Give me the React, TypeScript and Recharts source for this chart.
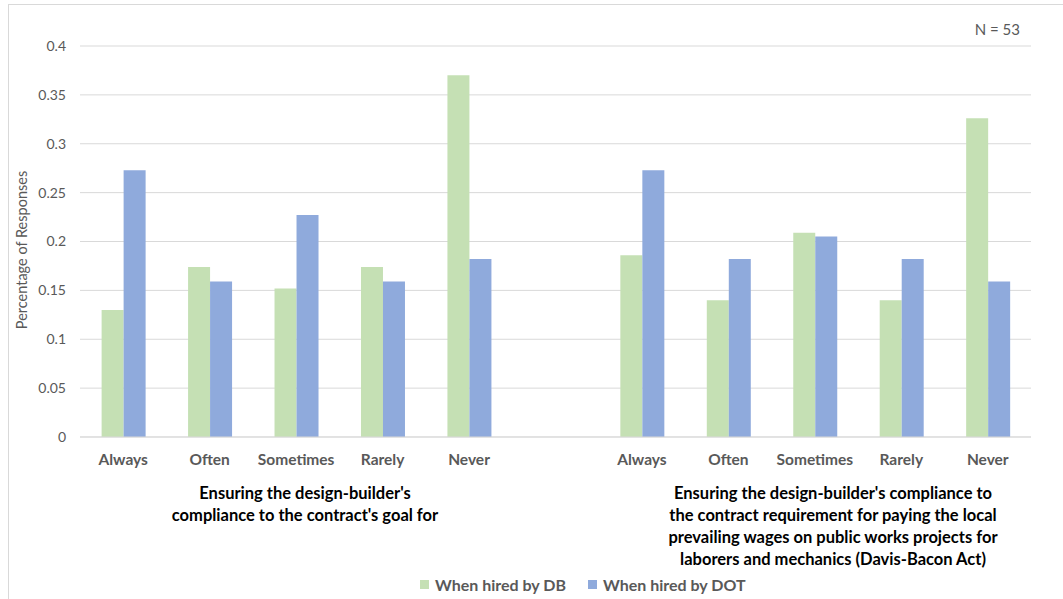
import React from 'react';
import { BarChart, Bar, XAxis, YAxis, CartesianGrid, Legend, Customized } from 'recharts';

// Two question groups of five answers, with a blank slot between them
const categories = ['Always', 'Often', 'Sometimes', 'Rarely', 'Never', '', 'Always', 'Often', 'Sometimes', 'Rarely', 'Never'];
const hiredByDB = [0.13, 0.174, 0.152, 0.174, 0.37, null, 0.186, 0.14, 0.209, 0.14, 0.326];
const hiredByDOT = [0.273, 0.159, 0.227, 0.159, 0.182, null, 0.273, 0.182, 0.205, 0.182, 0.159];
const yTicks = [0, 0.05, 0.1, 0.15, 0.2, 0.25, 0.3, 0.35, 0.4];

const groupTitles = [
  ["Ensuring the design-builder's", "compliance to the contract's goal for"],
  [
    "Ensuring the design-builder's compliance to",
    'the contract requirement for paying the local',
    'prevailing wages on public works projects for',
    'laborers and mechanics (Davis-Bacon Act)',
  ],
];

const seriesNames = ['When hired by DB', 'When hired by DOT'];
const seriesColors = ['#C5E0B4', '#8FAADC'];

const FONT = 'Lato, "Open Sans", sans-serif';
const W = 1063;
const H = 599;

const chartData = categories.map((name, i) => ({
  name,
  db: hiredByDB[i],
  dot: hiredByDOT[i],
}));

const CategoryTick = (props: any) => {
  const { x, y, payload } = props;
  return (
    <text x={x} y={y} dy={20} textAnchor="middle" fill="#595959" fontSize={15.5} fontWeight={700} fontFamily={FONT}>
      {payload.value}
    </text>
  );
};

// Frame, axis title, sample size note and the group captions under the ticks
const Extras = () => (
  <g fontFamily={FONT}>
    <rect x={8.5} y={4.5} width={W + 50} height={H + 50} fill="none" stroke="#D9D9D9" />
    <text x={1020} y={35} textAnchor="end" fill="#595959" fontSize={15}>
      N = 53
    </text>
    <text
      x={27}
      y={250}
      transform="rotate(-90 27 250)"
      textAnchor="middle"
      fill="#595959"
      fontSize={14.5}
    >
      Percentage of Responses
    </text>
    {groupTitles.map((lines, g) => (
      <text key={g} x={g === 0 ? 305 : 833} y={499} textAnchor="middle" fill="#000" fontSize={16.5} fontWeight={700}>
        {lines.map((line, i) => (
          <tspan key={i} x={g === 0 ? 305 : 833} dy={i === 0 ? 0 : 22}>
            {line}
          </tspan>
        ))}
      </text>
    ))}
  </g>
);

const LegendContent = () => (
  <div style={{ display: 'flex', alignItems: 'center', fontFamily: FONT, fontSize: 16, fontWeight: 700, color: '#595959' }}>
    {seriesNames.map((n, i) => (
      <div key={n} style={{ display: 'flex', alignItems: 'center', marginRight: 22 }}>
        <span style={{ width: 9, height: 9, background: seriesColors[i], marginRight: 6 }} />
        <span>{n}</span>
      </div>
    ))}
  </div>
);

export default function App() {
  return (
    <div style={{ position: 'absolute', left: 0, top: 0, width: W, height: H, background: '#fff' }}>
      <BarChart
        width={W}
        height={H}
        data={chartData}
        margin={{ top: 46, right: 32, bottom: 0, left: 0 }}
        barCategoryGap="25%"
        barGap={0}
      >
        <CartesianGrid vertical={false} stroke="#D9D9D9" />
        <XAxis
          dataKey="name"
          height={162}
          tickLine={false}
          axisLine={{ stroke: '#D9D9D9' }}
          tick={<CategoryTick />}
          tickMargin={2}
          interval={0}
        />
        <YAxis
          width={80}
          domain={[0, 0.4]}
          ticks={yTicks}
          axisLine={false}
          tickLine={false}
          tickMargin={8}
          tick={{ fill: '#595959', fontSize: 14, fontFamily: FONT }}
        />
        <Legend
          verticalAlign="middle"
          align="center"
          layout="horizontal"
          wrapperStyle={{ top: 575, left: 420, width: 400 }}
          content={<LegendContent />}
        />
        <Bar dataKey="db" name={seriesNames[0]} fill={seriesColors[0]} isAnimationActive={false} />
        <Bar dataKey="dot" name={seriesNames[1]} fill={seriesColors[1]} isAnimationActive={false} />
        <Customized component={<Extras />} />
      </BarChart>
    </div>
  );
}
